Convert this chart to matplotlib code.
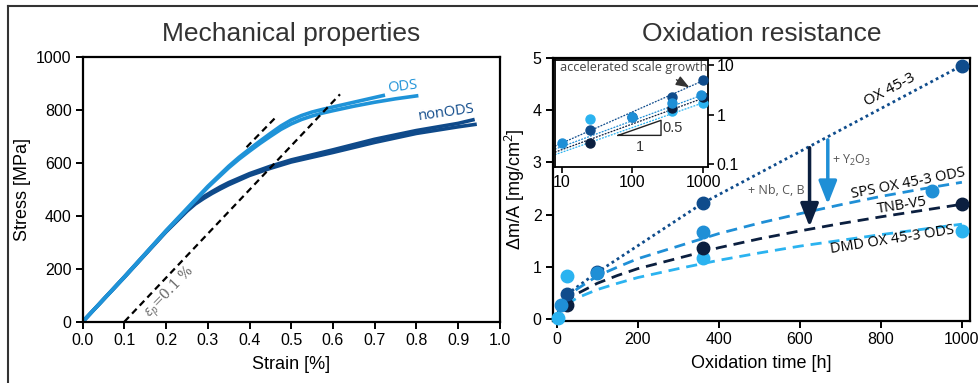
import matplotlib
matplotlib.use("Agg")
import matplotlib.pyplot as plt
from matplotlib.lines import Line2D
from matplotlib.ticker import FixedLocator, FixedFormatter, NullLocator

plt.rcParams['font.family'] = ['Liberation Sans', 'DejaVu Sans']
plt.rcParams['mathtext.fontset'] = 'custom'
plt.rcParams['mathtext.rm'] = 'Open Sans'
plt.rcParams['mathtext.it'] = 'Open Sans:italic'

# ---------------- data: mechanical properties ----------------
ods_a_strain = [0, 0.1, 0.2, 0.3, 0.35, 0.375, 0.4, 0.425, 0.45, 0.475, 0.5, 0.525, 0.55, 0.575, 0.6, 0.65, 0.7, 0.725]
ods_a_stress = [0, 170, 345, 512, 588, 622, 653, 683, 712, 740, 763, 780, 793, 803, 812, 830, 848, 857]
ods_b_strain = [0, 0.1, 0.2, 0.3, 0.35, 0.375, 0.4, 0.425, 0.45, 0.475, 0.5, 0.525, 0.55, 0.575, 0.6, 0.65, 0.7, 0.75, 0.805]
ods_b_stress = [0, 168, 342, 508, 582, 615, 645, 674, 701, 727, 748, 765, 778, 789, 798, 815, 830, 843, 855]
non_a_strain = [0, 0.1, 0.2, 0.25, 0.27, 0.29, 0.31, 0.33, 0.35, 0.4, 0.45, 0.5, 0.6, 0.7, 0.8, 0.9, 0.94]
non_a_stress = [0, 170, 343, 422, 450, 473, 492, 510, 526, 560, 588, 612, 650, 690, 723, 750, 765]
non_b_strain = [0, 0.1, 0.2, 0.25, 0.27, 0.29, 0.31, 0.33, 0.35, 0.4, 0.45, 0.5, 0.6, 0.7, 0.8, 0.9, 0.945]
non_b_stress = [0, 168, 340, 418, 445, 466, 485, 502, 518, 553, 580, 604, 640, 678, 712, 737, 747]
offset_strain = [0.1, 0.617]
offset_stress = [0, 860]
tangent_strain = [0.393, 0.466]
tangent_stress = [660, 778]

# ---------------- data: oxidation resistance ----------------
ox_t = [25, 100, 360, 1000]
ox_m = [0.48, 0.90, 2.22, 4.85]
ox_line_t = [0, 25, 100, 360, 1000]
ox_line_m = [0.05, 0.48, 0.90, 2.22, 4.85]

sps_t = [10, 100, 360, 925]
sps_m = [0.27, 0.88, 1.67, 2.46]
tnb_t = [25, 360, 1000]
tnb_m = [0.27, 1.36, 2.20]
dmd_t = [2, 25, 360, 1000]
dmd_m = [0.02, 0.83, 1.17, 1.69]

fit_t = [0, 5, 10, 25, 50, 100, 150, 200, 300, 400, 500, 600, 700, 800, 900, 1000]
sps_fit = [0, 0.19, 0.26, 0.42, 0.58, 0.83, 1.00, 1.16, 1.40, 1.64, 1.84, 2.02, 2.19, 2.35, 2.49, 2.62]
tnb_fit = [0, 0.16, 0.22, 0.35, 0.49, 0.69, 0.84, 0.97, 1.17, 1.37, 1.54, 1.69, 1.83, 1.96, 2.08, 2.20]
dmd_fit = [0, 0.13, 0.18, 0.29, 0.41, 0.57, 0.69, 0.80, 0.97, 1.13, 1.27, 1.40, 1.51, 1.62, 1.72, 1.82]

inset_fit_t = [8, 1000]
ox_inset_fit = [0.23, 4.8]
sps_inset_fit = [0.20, 2.5]
tnb_inset_fit = [0.174, 2.13]
dmd_inset_fit = [0.155, 1.72]

c_ox = '#0f4c8c'
c_sps = '#1f8fd6'
c_tnb = '#0b1f3f'
c_dmd = '#2bb3f0'
c_ods = '#1f93d8'
c_non = '#0f4a8a'
grey = '#555555'

fig = plt.figure(figsize=(9.79, 3.83), dpi=100)

# outer frame
fig.add_artist(Line2D([8/979, 8/979], [0, 1 - 6/383], transform=fig.transFigure, color='#333333', lw=1.5))
fig.add_artist(Line2D([8/979, 1], [1 - 6/383, 1 - 6/383], transform=fig.transFigure, color='#333333', lw=1.5))

# ---------------- left panel ----------------
ax1 = fig.add_axes([82.7/979, 1 - 321.7/383, (499.7 - 82.7)/979, (321.7 - 57.3)/383])
ax1.plot(non_b_strain, non_b_stress, color=c_non, lw=2.6, solid_capstyle='butt', solid_joinstyle='round')
ax1.plot(non_a_strain, non_a_stress, color=c_non, lw=2.6, solid_capstyle='butt', solid_joinstyle='round')
ax1.plot(ods_b_strain, ods_b_stress, color=c_ods, lw=2.6, solid_capstyle='butt', solid_joinstyle='round')
ax1.plot(ods_a_strain, ods_a_stress, color=c_ods, lw=2.6, solid_capstyle='butt', solid_joinstyle='round')
ax1.plot(offset_strain, offset_stress, color='black', lw=1.6, ls=(0, (3, 2)))
ax1.plot(tangent_strain, tangent_stress, color='black', lw=1.6, ls=(0, (3, 2)))
ax1.set_xlim(0, 1.0)
ax1.set_ylim(0, 1000)
ax1.set_xticks([0.0, 0.1, 0.2, 0.3, 0.4, 0.5, 0.6, 0.7, 0.8, 0.9, 1.0])
ax1.set_yticks([0, 200, 400, 600, 800, 1000])
ax1.set_xlabel('Strain [%]', fontsize=13, labelpad=6)
ax1.set_ylabel('Stress [MPa]', fontsize=13, labelpad=4)
ax1.text(0.766, 888, 'ODS', color=c_ods, fontsize=10.5, family='Open Sans',
         rotation=7, ha='center', va='center')
ax1.text(0.873, 790, 'nonODS', color=c_non, fontsize=10.5, family='Open Sans',
         rotation=8, ha='center', va='center')
ax1.text(0.21, 110, r'$\epsilon_p$=0.1 %', color='#666666', fontsize=10, family='DejaVu Serif',
         rotation=46, ha='center', va='center', rotation_mode='anchor')
ax1.set_title('Mechanical properties', fontsize=19, color='#333333', pad=12)

# ---------------- right panel ----------------
ax2 = fig.add_axes([552.7/979, 1 - 321/383, (970 - 552.7)/979, (321 - 57.7)/383])
ax2.plot(ox_line_t, ox_line_m, color=c_ox, lw=2, ls=(0, (1, 1.2)))
ax2.plot(fit_t, sps_fit, color=c_sps, lw=2, ls=(0, (4, 2.5)))
ax2.plot(fit_t, tnb_fit, color=c_tnb, lw=2, ls=(0, (4, 2.5)))
ax2.plot(fit_t, dmd_fit, color=c_dmd, lw=2, ls=(0, (4, 2.5)))
ms = 9
ax2.plot(dmd_t, dmd_m, 'o', color=c_dmd, ms=ms, clip_on=False, zorder=4)
ax2.plot(tnb_t, tnb_m, 'o', color=c_tnb, ms=ms, clip_on=False, zorder=4)
ax2.plot(ox_t, ox_m, 'o', color=c_ox, ms=ms, clip_on=False, zorder=4)
ax2.plot(sps_t, sps_m, 'o', color=c_sps, ms=ms, clip_on=False, zorder=5)
ax2.set_xlim(-10, 1020)
ax2.set_ylim(-0.03, 5)
ax2.set_xticks([0, 200, 400, 600, 800, 1000])
ax2.set_yticks([0, 1, 2, 3, 4, 5])
ax2.set_xlabel('Oxidation time [h]', fontsize=13, labelpad=6)
ax2.set_ylabel('Δm/A [mg/cm$^{2}$]', fontsize=13, labelpad=4)
ax2.set_title('Oxidation resistance', fontsize=19, color='#333333', pad=12)

ax2.annotate('', xy=(624, 1.77), xytext=(624, 3.28),
             arrowprops=dict(arrowstyle='-|>,head_width=0.55,head_length=1.4', lw=2.5,
                             color=c_tnb, mutation_scale=10, shrinkA=0, shrinkB=0))
ax2.annotate('', xy=(669, 2.2), xytext=(669, 3.43),
             arrowprops=dict(arrowstyle='-|>,head_width=0.55,head_length=1.4', lw=2.5,
                             color=c_sps, mutation_scale=10, shrinkA=0, shrinkB=0))
ax2.text(541, 2.47, '+ Nb, C, B', color=grey, fontsize=9, family='Open Sans', ha='center', va='center')
ax2.text(727, 3.03, r'+ Y$_\mathregular{2}$O$_\mathregular{3}$', color=grey, fontsize=9,
         family='Open Sans', ha='center', va='center')
ax2.text(823, 4.38, 'OX 45-3', color='black', fontsize=11, family='Open Sans',
         rotation=28, ha='center', va='center')
ax2.text(867, 2.6, 'SPS OX 45-3 ODS', color='black', fontsize=10.5, family='Open Sans',
         rotation=11, ha='center', va='center')
ax2.text(852, 2.17, 'TNB-V5', color='black', fontsize=10.5, family='Open Sans',
         rotation=9, ha='center', va='center')
ax2.text(827, 1.53, 'DMD OX 45-3 ODS', color='black', fontsize=10.5, family='Open Sans',
         rotation=9, ha='center', va='center')

for ax in (ax1, ax2):
    for s in ax.spines.values():
        s.set_linewidth(1.6)
    ax.tick_params(direction='out', length=5, width=1.4, labelsize=11.5, pad=3)

# ---------------- inset ----------------
axi = fig.add_axes([555/979, 1 - 166.7/383, (708 - 555)/979, (166.7 - 60)/383])
axi.set_xscale('log')
axi.set_yscale('log', nonpositive='mask')
axi.plot(inset_fit_t, ox_inset_fit, color=c_ox, lw=0.9, ls=(0, (1.5, 1)))
axi.plot(inset_fit_t, sps_inset_fit, color=c_sps, lw=0.9, ls=(0, (1.5, 1)))
axi.plot(inset_fit_t, tnb_inset_fit, color=c_tnb, lw=0.9, ls=(0, (1.5, 1)))
axi.plot(inset_fit_t, dmd_inset_fit, color=c_dmd, lw=0.9, ls=(0, (1.5, 1)))
mi = 6.5
axi.plot(dmd_t, dmd_m, 'o', color=c_dmd, ms=mi, zorder=4)
axi.plot(tnb_t, tnb_m, 'o', color=c_tnb, ms=mi, zorder=4)
axi.plot(ox_t, ox_m, 'o', color=c_ox, ms=mi, zorder=4)
axi.plot(sps_t, sps_m, 'o', color=c_sps, ms=mi, zorder=5)
axi.set_xlim(8.05, 1172)
axi.set_ylim(0.089, 12.5)
axi.xaxis.set_major_locator(FixedLocator([10, 100, 1000]))
axi.xaxis.set_major_formatter(FixedFormatter(['10', '100', '1000']))
axi.xaxis.set_minor_locator(NullLocator())
axi.yaxis.set_major_locator(FixedLocator([0.1, 1, 10]))
axi.yaxis.set_major_formatter(FixedFormatter(['0.1', '1', '10']))
axi.yaxis.set_minor_locator(NullLocator())
axi.yaxis.tick_right()
axi.tick_params(direction='out', length=4, width=1.2, labelsize=11.5, pad=2)
for s in axi.spines.values():
    s.set_linewidth(1.3)
# slope triangle
axi.plot([63, 254, 254, 63], [0.38, 0.38, 0.763, 0.38], color='#222222', lw=1.0)
axi.text(262, 0.54, '0.5', fontsize=10.5, ha='left', va='center', color='#333333')
axi.text(126, 0.3, '1', fontsize=10.5, ha='center', va='top', color='#333333')
axi.text(0.03, 0.93, 'accelerated scale growth', transform=axi.transAxes, fontsize=9.2,
         family='Open Sans', color='#444444', ha='left', va='center')
axi.annotate('', xy=(640, 3.5), xytext=(420, 5.0),
             arrowprops=dict(arrowstyle='-|>,head_width=0.3,head_length=0.8', lw=1.0,
                             color='#333333', mutation_scale=10, shrinkA=0, shrinkB=0))

fig.savefig('out.png', dpi=100)
